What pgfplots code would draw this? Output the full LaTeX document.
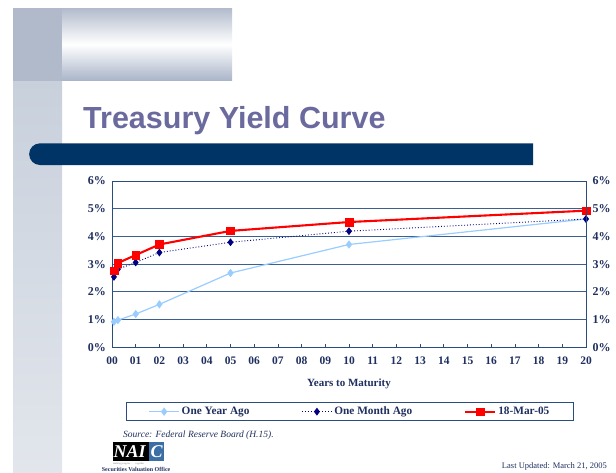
\documentclass[border=0pt]{standalone}
\usepackage{pgfplots}
\pgfplotsset{compat=1.18}
\usepackage{fontspec}
\setmainfont{Liberation Serif}
\newfontfamily\sansfont{Liberation Sans}
\definecolor{textnavy}{HTML}{1F2F5F}
\definecolor{axiscol}{HTML}{2B4C7E}
\definecolor{gridcol}{HTML}{3D5F8F}
\definecolor{titlecol}{HTML}{6A6A9E}
\definecolor{barcol}{HTML}{003366}
\definecolor{redser}{HTML}{FF0000}
\definecolor{lightser}{HTML}{99CCFF}
\definecolor{darkser}{HTML}{000080}
\definecolor{stripTop}{HTML}{B0BACB}
\definecolor{stripMid}{HTML}{C8D0DC}
\definecolor{stripBot}{HTML}{E2E6EC}
\definecolor{blockTop}{HTML}{B2BBCC}
\definecolor{blockBot}{HTML}{A9B4C8}
\definecolor{naicblue}{HTML}{3A6EA5}
\begin{document}
\begin{tikzpicture}
\path[use as bounding box] (0pt,0pt) rectangle (616pt,-472pt);
% decorative background
\shade[top color=stripMid,bottom color=stripBot] (13pt,-80pt) rectangle (62pt,-472pt);
\fill[stripTop] (13pt,-8pt) rectangle (62pt,-80.7pt);
\shade[top color=blockTop,bottom color=blockBot,middle color=white] (62pt,-8pt) rectangle (232pt,-80.7pt);
\fill[barcol] (533pt,-143.3pt) -- (40pt,-143.3pt) arc[start angle=90,end angle=270,radius=10.85pt] -- (533pt,-165pt) -- cycle;
\node[anchor=base west,inner sep=0,text=titlecol,font=\sansfont\bfseries\fontsize{30.5}{30.5}\selectfont] at (83pt,-128pt) {Treasury Yield Curve};

\begin{axis}[
  scale only axis, width=474pt, height=166.3pt,
  at={(112pt,-347.3pt)}, anchor=south west,
  xmin=0, xmax=20, ymin=0, ymax=6,
  xtick={0,1,...,20},
  xticklabels={00,01,02,03,04,05,06,07,08,09,10,11,12,13,14,15,16,17,18,19,20},
  ytick={0,1,...,6},
  yticklabel={\pgfmathprintnumber{\tick}\%},
  /pgf/number format/assume math mode=true,
  ymajorgrids,
  grid style={gridcol,line width=0.9pt},
  axis line style={axiscol,line width=0.9pt},
  xtick style={axiscol,line width=0.8pt},
  xtick align=inside, major tick length=3pt,
  ytick style={draw=none},
  xtick pos=bottom, ytick pos=left,
  ticklabel style={text=textnavy,font=\bfseries\fontsize{11.5}{11.5}\selectfont},
  yticklabel style={xshift=-2.5pt,font=\bfseries\fontsize{12}{12}\selectfont},
  xticklabel style={yshift=-6.5pt},
  xlabel={Years to Maturity},
  xlabel style={at={(axis description cs:0.5,-0.233)},anchor=base,text=textnavy,font=\bfseries\fontsize{11}{11}\selectfont},
  legend columns=3,
  legend style={at={(axis description cs:0.502,-0.387)},anchor=center,draw=axiscol,line width=1pt,
    text=textnavy,font=\bfseries\fontsize{11.3}{11.3}\selectfont,
    inner xsep=22pt,inner ysep=2pt,
    /tikz/every even column/.append style={column sep=50pt}},
  legend cell align=left,
  legend image code/.code={\draw[mark repeat=2,mark phase=2,#1] plot coordinates {(0pt,0pt) (15pt,0pt) (30pt,0pt)};},
]
\addplot[color=lightser,line width=1.2pt,mark=diamond*,mark size=3.2pt,mark options={solid,fill=lightser,draw=lightser}]
  coordinates {(0.083,0.92) (0.25,0.98) (1,1.20) (2,1.55) (5,2.68) (10,3.71) (20,4.63)};
\addlegendentry{One Year Ago}
\addplot[color=darkser,line width=0.9pt,dotted,mark=diamond*,mark size=3.2pt,mark options={solid,fill=darkser,draw=darkser}]
  coordinates {(0.083,2.54) (0.25,2.82) (1,3.06) (2,3.42) (5,3.79) (10,4.19) (20,4.63)};
\addlegendentry{One Month Ago}
\addplot[color=redser,line width=2.1pt,mark=square*,mark size=3.8pt,mark options={solid,fill=redser,draw=redser,line width=0.5pt}]
  coordinates {(0.083,2.76) (0.25,3.04) (1,3.33) (2,3.71) (5,4.20) (10,4.52) (20,4.93)};
\addlegendentry{18-Mar-05}
\end{axis}

\begin{axis}[
  scale only axis, width=474pt, height=166.3pt,
  at={(112pt,-347.3pt)}, anchor=south west,
  xmin=0, xmax=20, ymin=0, ymax=6,
  axis x line=none, axis y line*=right,
  ytick={0,1,...,6},
  yticklabel={\pgfmathprintnumber{\tick}\%},
  /pgf/number format/assume math mode=true,
  axis line style={axiscol,line width=0.9pt},
  ytick style={draw=none},
  ticklabel style={text=textnavy,font=\bfseries\fontsize{12}{12}\selectfont},
  yticklabel style={xshift=3pt},
]
\addplot[draw=none] coordinates {(0,0)};
\end{axis}

% footer
\node[anchor=base west,inner sep=0,text=textnavy,font=\itshape\fontsize{9.5}{9.5}\selectfont] at (123pt,-437pt) {Source: Federal Reserve Board (H.15).};
\fill[black] (112.7pt,-441.7pt) rectangle (149.3pt,-461pt);
\fill[naicblue] (149.3pt,-441.7pt) rectangle (164pt,-461pt);
\node[anchor=base west,inner sep=0,text=white,font=\bfseries\itshape\fontsize{18}{18}\selectfont] at (113.5pt,-457.5pt) {NAI};
\node[anchor=base,inner sep=0,text=white,font=\bfseries\itshape\fontsize{18}{18}\selectfont] at (156.6pt,-457.5pt) {C};
\node[anchor=base west,inner sep=0,text=gray,font=\fontsize{2.6}{2.6}\selectfont] at (113pt,-464.5pt) {making progress . . . together};
\node[anchor=base west,inner sep=0,text=textnavy,font=\bfseries\fontsize{6}{6}\selectfont] at (101.7pt,-471pt) {Securities Valuation Office};
\node[anchor=base east,inner sep=0,text=textnavy,font=\fontsize{8.5}{8.5}\selectfont] at (607pt,-468pt) {Last Updated: March 21, 2005};
\end{tikzpicture}
\end{document}
